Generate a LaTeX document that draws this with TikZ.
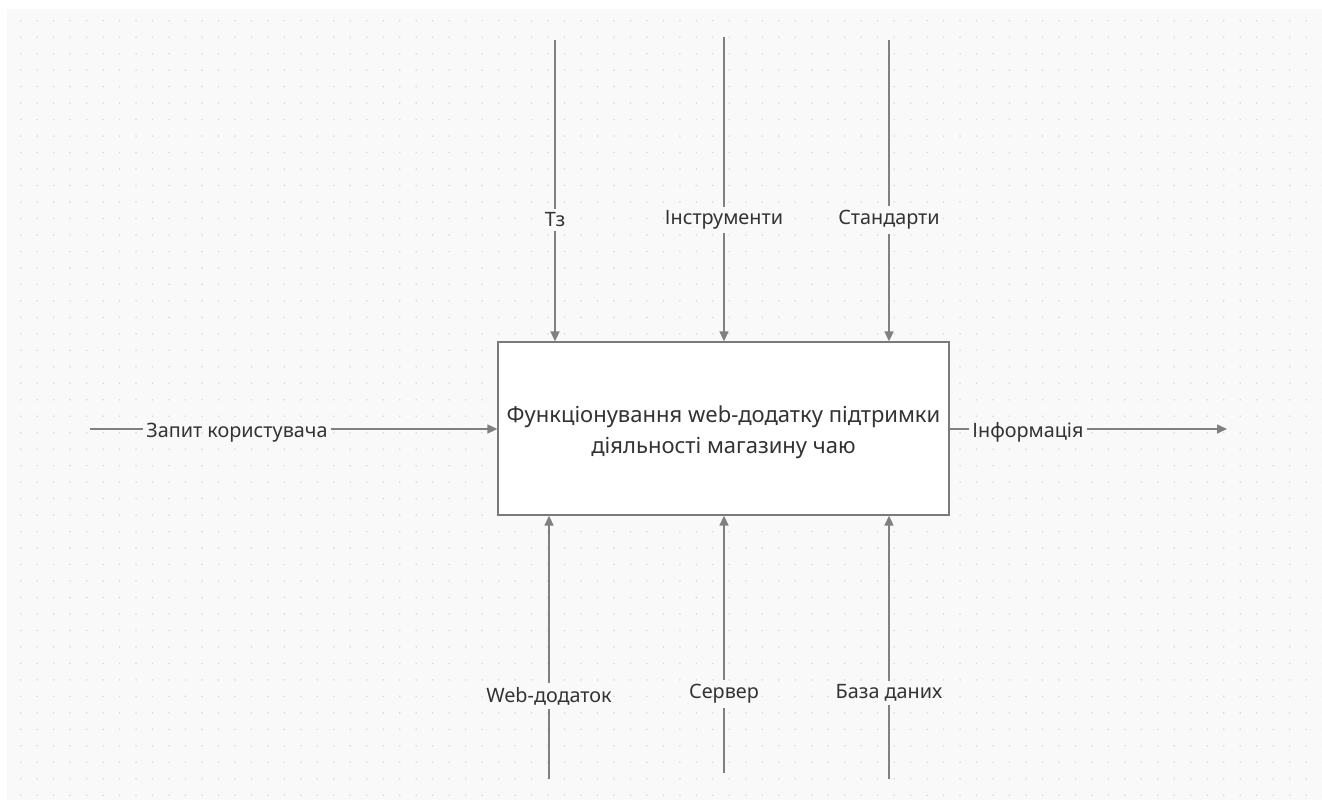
\documentclass[tikz,border=0pt]{standalone}
\usepackage{fontspec}
\setmainfont{Noto Sans}
\usetikzlibrary{arrows.meta}
\definecolor{bgc}{HTML}{F9F9FA}
\definecolor{dotc}{HTML}{DADADF}
\definecolor{linec}{HTML}{808080}
\definecolor{boxc}{HTML}{7A7A7A}
\definecolor{txtc}{HTML}{333333}
\tikzset{
  ln/.style={draw=linec, line width=1.6pt},
  arr/.style={ln, -{Triangle[length=10pt,width=9pt]}},
  lbl/.style={text=txtc, font=\fontsize{19.8}{22}\selectfont, inner xsep=3pt, inner ysep=4pt, outer sep=0pt},
  mainbox/.style={draw=boxc, line width=1.3pt, fill=white, minimum width=451pt, minimum height=173pt},
  boxtext/.style={text=txtc, align=center, font=\fontsize{22}{31}\selectfont}
}
\begin{document}
\begin{tikzpicture}[x=1pt,y=-1pt]
\useasboundingbox (0,0) rectangle (1322,800);
\fill[white] (0,0) rectangle (1322,800);
\fill[bgc] (7,9) rectangle (1322,800);
\foreach \i in {0,...,79} {\foreach \j in {0,...,47} {\fill[dotc] (20.7+16.48*\i, 20.7+16.48*\j) circle (0.9pt);}}
% main box
\node[mainbox] (box) at (723.5,428.5) {};
\node[boxtext] (boxlbl) at ([yshift=-3.5pt]box.center) {Функціонування web-додатку підтримки\\діяльності магазину чаю};
% top controls
\coordinate (t1s) at (555,40);
\coordinate (t2s) at (724,37);
\coordinate (t3s) at (889,40);
\node[lbl] (t1) at (555,220) {Тз};
\node[lbl] (t2) at (724,220) {Інструменти};
\node[lbl] (t3) at (889,220) {Стандарти};
\draw[ln] (t1s) -- (t1);
\draw[ln] (t2s) -- (t2);
\draw[ln] (t3s) -- (t3);
\draw[arr] (t1) -- (t1 |- box.north);
\draw[arr] (t2) -- (t2 |- box.north);
\draw[arr] (t3) -- (t3 |- box.north);
% bottom mechanisms
\coordinate (b1s) at (549,779);
\coordinate (b2s) at (724,773);
\coordinate (b3s) at (889,779);
\node[lbl] (b1) at (549,696) {Web-додаток};
\node[lbl] (b2) at (724,694) {Сервер};
\node[lbl] (b3) at (889,693) {База даних};
\draw[ln] (b1s) -- (b1);
\draw[ln] (b2s) -- (b2);
\draw[ln] (b3s) -- (b3);
\draw[arr] (b1) -- (b1 |- box.south);
\draw[arr] (b2) -- (b2 |- box.south);
\draw[arr] (b3) -- (b3 |- box.south);
% input
\coordinate (ins) at (90,429);
\node[lbl, anchor=base] (in) at (237,437) {Запит користувача};
\draw[ln] (ins) -- (ins -| in.west);
\draw[arr] (ins -| in.east) -- (ins -| box.west);
% output
\node[lbl, anchor=base] (out) at (1028,437) {Інформація};
\coordinate (oute) at (1227,429);
\draw[ln] (box.east |- oute) -- (oute -| out.west);
\draw[arr] (oute -| out.east) -- (oute);
\end{tikzpicture}
\end{document}
